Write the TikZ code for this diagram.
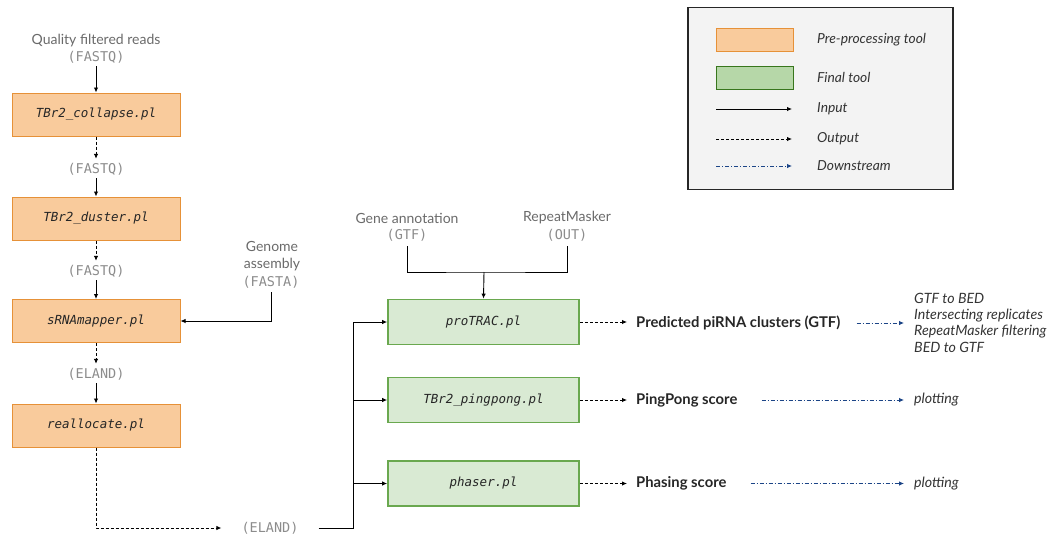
\documentclass[tikz,border=0pt]{standalone}
\usepackage{fontspec}
\setmainfont{Lato}
\setmonofont{DejaVu Sans Mono}
\usetikzlibrary{arrows.meta}
\definecolor{orfill}{HTML}{F9CB9C}
\definecolor{ordraw}{HTML}{E69138}
\definecolor{grfill}{HTML}{D9EAD3}
\definecolor{grdraw}{HTML}{6AA84F}
\definecolor{lgfill}{HTML}{B6D7A8}
\definecolor{lgdraw}{HTML}{38761D}
\definecolor{dsblue}{HTML}{1C4587}
\definecolor{lblgray}{HTML}{6A6A6A}
\definecolor{fmtgray}{HTML}{8C8C8C}
\definecolor{legfill}{HTML}{F3F3F3}
\begin{document}
\begin{tikzpicture}[x=1pt,y=-1pt,
  tip/.style={-{Latex[length=5pt,width=4.5pt]}},
  plain/.style={line width=0.9pt,draw=black},
  inp/.style={plain,tip},
  outp/.style={plain,tip,dash pattern=on 3pt off 2pt},
  down/.style={line width=0.8pt,draw=dsblue,-{Latex[length=5pt,width=4.5pt]},dash pattern=on 4pt off 2pt on 1pt off 2pt},
  pre/.style={draw=ordraw,fill=orfill,line width=1pt,minimum width=168pt,minimum height=43pt,
    font=\ttfamily\itshape\fontsize{12.5}{15}\selectfont,text=black!85},
  fin/.style={draw=grdraw,fill=grfill,line width=1.8pt,minimum width=191pt,minimum height=45pt,
    font=\ttfamily\itshape\fontsize{12.5}{15}\selectfont,text=black!85},
  lbl/.style={text=lblgray,font=\fontsize{14}{17}\selectfont,align=center,inner sep=0pt},
  fmt/.style={text=fmtgray,font=\ttfamily\fontsize{13.5}{15}\selectfont,inner sep=0pt},
  res/.style={text=black!85,font=\bfseries\fontsize{14.8}{17}\selectfont,inner sep=0pt,anchor=west},
  dsl/.style={text=black!80,font=\itshape\fontsize{14.2}{16.3}\selectfont,inner sep=0pt,anchor=west,align=left},
  leg/.style={text=black!80,font=\itshape\fontsize{13.8}{15}\selectfont,inner sep=0pt,anchor=west}
]
\useasboundingbox (0,0) rectangle (1050,539);

% ---------- legend ----------
\node[draw=black!85,fill=legfill,line width=1.8pt,minimum width=265pt,minimum height=182pt] (legend) at (820.5,98.5) {};
\node[draw=ordraw,fill=orfill,line width=1pt,minimum width=77pt,minimum height=23pt] (lor) at (754.5,39.5) {};
\node[leg] (lorT) at (817,39.5) {Pre-processing tool};
\node[draw=lgdraw,fill=lgfill,line width=1pt,minimum width=77pt,minimum height=23pt] (lgr) at (754.5,77.5) {};
\node[leg] (lgrT) at (817,77.5) {Final tool};
\coordinate (li1) at (716,109); \coordinate (li2) at (792,109);
\draw[inp] (li1) -- (li2);
\node[leg] (linT) at (817,109) {Input};
\coordinate (lo1) at (716,139); \coordinate (lo2) at (792,139);
\draw[outp] (lo1) -- (lo2);
\node[leg] (loutT) at (817,139) {Output};
\coordinate (ld1) at (716,166); \coordinate (ld2) at (792,166);
\draw[down] (ld1) -- (ld2);
\node[leg] (ldT) at (817,166) {Downstream};

% ---------- pre-processing column ----------
\node[lbl] (qfr) at (96,41) {Quality filtered reads};
\node[fmt] (fq0) at (96,57) {(FASTQ)};
\node[pre] (col) at (96,114.5) {TBr2\_collapse.pl};
\node[fmt] (fq1) at (96,169) {(FASTQ)};
\node[pre] (dus) at (96,218.5) {TBr2\_duster.pl};
\node[fmt] (fq2) at (96,271) {(FASTQ)};
\node[pre] (map) at (96,321) {sRNAmapper.pl};
\node[fmt] (el1) at (96,374) {(ELAND)};
\node[pre] (rea) at (96,425.5) {reallocate.pl};

\draw[inp,shorten <=3pt] (fq0) -- (col);
\draw[outp,shorten >=4pt] (col) -- (fq1);
\draw[inp,shorten <=3pt] (fq1) -- (dus);
\draw[outp,shorten >=4pt] (dus) -- (fq2);
\draw[inp,shorten <=3pt] (fq2) -- (map);
\draw[outp,shorten >=4pt] (map) -- (el1);
\draw[inp,shorten <=3pt] (el1) -- (rea);

\node[lbl] (gen) at (272,256.5) {Genome\\assembly};
\node[fmt] (fa) at (271,282) {(FASTA)};
\draw[inp,shorten <=4pt] (fa.south) |- (map.east);

\node[fmt] (el2) at (270,528) {(ELAND)};
\draw[outp,shorten >=20pt] (rea.south) |- (el2.west);

% ---------- final tools ----------
\node[fin] (pro) at (483.5,322) {proTRAC.pl};
\node[fin] (pin) at (483.5,400) {TBr2\_pingpong.pl};
\node[fin] (pha) at (483.5,483.5) {phaser.pl};

\coordinate (jt) at (353,322);
\draw[plain,shorten <=20pt] (el2.east) -| (jt);
\draw[inp] (jt) -- (pro.west);
\draw[inp] (jt |- pin.west) -- (pin.west);
\draw[inp] (jt |- pha.west) -- (pha.west);

\node[lbl] (gan) at (407,218) {Gene annotation};
\node[fmt] (gtf) at (407,235) {(GTF)};
\node[lbl] (rpm) at (567,218) {RepeatMasker};
\node[fmt] (out) at (567,235) {(OUT)};
\coordinate (gj) at (484,272);
\draw[plain,shorten <=5pt,shorten >=5pt] (gtf.south) |- (gj) -| (out.south);
\draw[inp] (gj) -- (pro.north);

% ---------- results ----------
\node[res] (pred) at (636,323) {Predicted piRNA clusters (GTF)};
\node[res] (pps) at (636,400) {PingPong score};
\node[res] (phs) at (636,483.5) {Phasing score};
\draw[outp,shorten >=9pt] (pro.east) -- (pro.east -| pred.west);
\draw[outp,shorten >=9pt] (pin.east) -- (pin.east -| pps.west);
\draw[outp,shorten >=9pt] (pha.east) -- (pha.east -| phs.west);

\node[dsl] (post) at (914,322.5) {GTF to BED\\Intersecting replicates\\RepeatMasker filtering\\BED to GTF};
\node[dsl] (plt1) at (914,400) {plotting};
\node[dsl] (plt2) at (914,483.5) {plotting};
\draw[down,shorten <=16pt,shorten >=10pt] (pred.east) -- (pred.east -| post.west);
\draw[down,shorten <=24pt,shorten >=10pt] (pps.east) -- (plt1.west);
\draw[down,shorten <=24pt,shorten >=10pt] (phs.east) -- (plt2.west);
\end{tikzpicture}
\end{document}
